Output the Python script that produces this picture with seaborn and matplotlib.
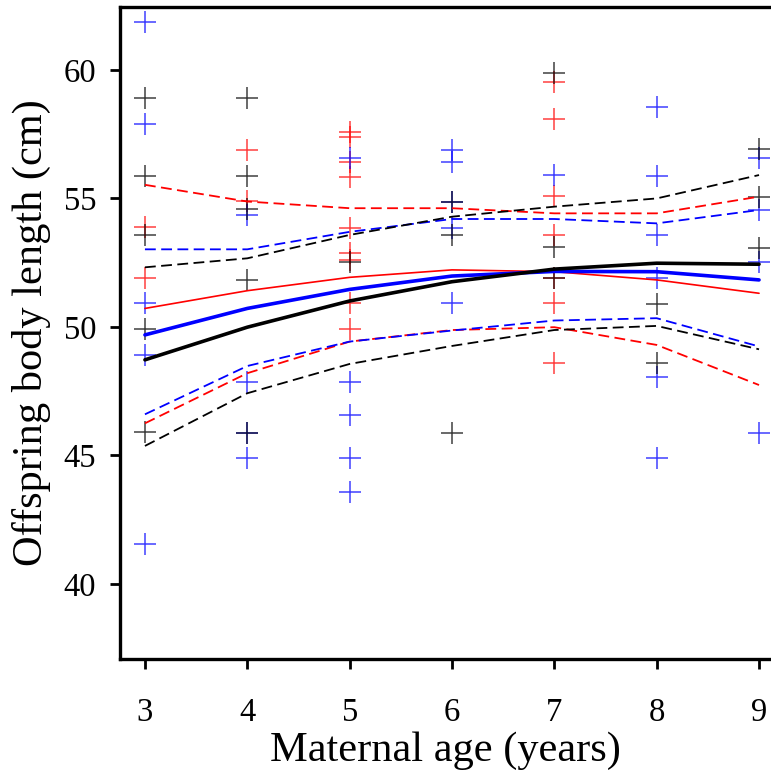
import numpy as np
import pandas as pd
import matplotlib
matplotlib.use("Agg")
import matplotlib.pyplot as plt
import seaborn as sns

ages = [3, 4, 5, 6, 7, 8, 9]

# observed offspring lengths per group (age, length)
red_age = [3, 3, 4, 4, 5, 5, 5, 5, 5, 5, 5, 5, 5, 7, 7, 7, 7, 7, 7, 7]
red_len = [53.9, 51.9, 56.9, 54.9, 57.6, 57.4, 56.4, 55.85, 53.86, 52.87, 50.92, 49.91, 52.6,
           59.55, 58.08, 55.1, 53.58, 51.89, 50.92, 48.59]
blue_age = [3, 3, 3, 3, 3, 4, 4, 4, 4, 5, 5, 5, 5, 5, 6, 6, 6, 6, 6, 7, 8, 8, 8, 8, 8, 8,
            9, 9, 9, 9]
blue_len = [61.88, 57.9, 50.92, 48.9, 41.55, 54.36, 47.87, 45.89, 44.9, 56.56, 47.87, 46.58,
            44.89, 43.57, 56.89, 56.4, 54.88, 53.86, 50.92, 55.91, 58.57, 55.88, 53.58, 51.89,
            48.07, 44.89, 56.56, 54.55, 52.54, 45.89]
black_age = [3, 3, 3, 3, 3, 4, 4, 4, 4, 4, 5, 6, 6, 6, 7, 7, 7, 8, 8, 9, 9, 9]
black_len = [58.9, 55.88, 53.57, 49.91, 45.9, 58.9, 55.88, 54.6, 51.83, 45.89, 52.54, 54.88,
             53.58, 45.89, 59.9, 53.1, 51.89, 50.89, 48.59, 56.91, 55.07, 53.06]

# fitted curves and confidence bands
red_fit = [50.72, 51.41, 51.93, 52.22, 52.15, 51.83, 51.31]
red_hi = [55.53, 54.88, 54.62, 54.62, 54.42, 54.42, 55.07]
red_lo = [46.25, 48.2, 49.43, 49.88, 49.99, 49.3, 47.74]
blue_fit = [49.69, 50.72, 51.46, 51.98, 52.16, 52.15, 51.83]
blue_hi = [53.02, 53.02, 53.7, 54.2, 54.2, 54.03, 54.55]
blue_lo = [46.6, 48.48, 49.43, 49.86, 50.25, 50.34, 49.24]
black_fit = [48.72, 49.99, 51.01, 51.76, 52.25, 52.48, 52.44]
black_hi = [52.32, 52.67, 53.58, 54.29, 54.68, 55.0, 55.91]
black_lo = [45.37, 47.42, 48.56, 49.26, 49.88, 50.04, 49.13]

sns.set_style("white")
plt.rcParams["font.family"] = ["Liberation Serif", "DejaVu Serif"]
plt.rcParams["text.color"] = "black"
plt.rcParams["axes.labelcolor"] = "black"
plt.rcParams["xtick.color"] = "black"
plt.rcParams["ytick.color"] = "black"

fig = plt.figure(figsize=(7.71, 7.75), dpi=100)
ax = fig.add_axes([0.1556, 0.1497, 0.8444, 0.8413])

colors = {"red": "#ff0000", "blue": "#0000ff", "black": "#000000"}
points = {"red": (red_age, red_len), "blue": (blue_age, blue_len), "black": (black_age, black_len)}
for name in ["red", "blue", "black"]:
    a, l = points[name]
    sns.scatterplot(x=a, y=l, marker="+", s=260, color=colors[name], linewidth=1.1,
                    alpha=0.75, ax=ax, zorder=2)

curves = [
    ("red", red_fit, red_hi, red_lo, 1.2),
    ("blue", blue_fit, blue_hi, blue_lo, 2.6),
    ("black", black_fit, black_hi, black_lo, 2.6),
]
for name, fit, hi, lo, lw in curves:
    sns.lineplot(x=ages, y=fit, color=colors[name], linewidth=lw, ax=ax, zorder=3)
    for band in (hi, lo):
        sns.lineplot(x=ages, y=band, color=colors[name], linewidth=1.3, ax=ax, zorder=3,
                     linestyle=(0, (6, 3)))

ax.set_xlim(2.756, 9.117)
ax.set_ylim(37.08, 62.45)
ax.set_xticks(ages)
ax.set_yticks([40, 45, 50, 55, 60])
ax.set_xlabel("Maternal age (years)", fontsize=30.5, labelpad=2)
ax.set_ylabel("Offspring body length (cm)", fontsize=30.5, labelpad=9)
ax.tick_params(axis="both", which="major", labelsize=23.5, direction="out", length=7, width=2,
               bottom=True, left=True)
ax.tick_params(axis="x", pad=21)
ax.tick_params(axis="y", pad=10)
for side in ["left", "top", "bottom"]:
    ax.spines[side].set_linewidth(2.4)
    ax.spines[side].set_color("black")
ax.spines["right"].set_visible(False)

fig.savefig("out.png", dpi=100)
